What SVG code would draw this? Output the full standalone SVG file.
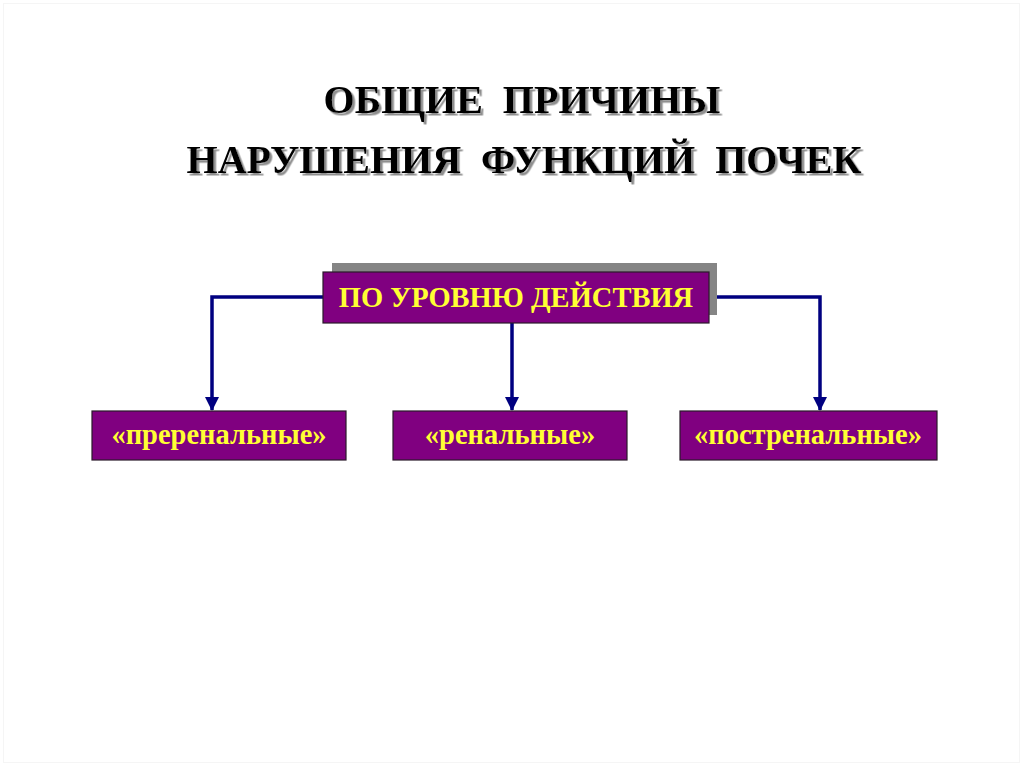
<svg xmlns="http://www.w3.org/2000/svg" width="1024" height="767" viewBox="0 0 1024 767">
<style>
.title{font-family:"Liberation Serif","Times New Roman",serif;font-weight:bold;font-size:40px;text-anchor:middle;white-space:pre;fill:#000000;filter:url(#tshadow)}
.box{fill:#800080;stroke:#2a1a2a;stroke-width:1.2}
.lbl{font-family:"Liberation Serif","Times New Roman",serif;font-weight:bold;font-size:28.5px;fill:#ffff33;text-anchor:middle}
.conn{fill:none;stroke:#000080;stroke-width:3.5;stroke-linejoin:miter}
</style>
<defs>
<filter id="tshadow" x="-5%" y="-20%" width="110%" height="140%">
<feDropShadow dx="2.5" dy="2.5" stdDeviation="0.4" flood-color="#8f8f8f" flood-opacity="1"/>
</filter>
<marker id="arr" viewBox="0 0 14 14" refX="13" refY="7" markerWidth="14" markerHeight="14" markerUnits="userSpaceOnUse" orient="auto">
<path d="M0,0 L14,7 L0,14 Z" fill="#000080"/>
</marker>
</defs>
<rect x="0" y="0" width="1024" height="767" fill="#ffffff"/>
<rect x="3.5" y="3.5" width="1016" height="759" fill="none" stroke="#f5f5f5" stroke-width="1"/>
<g id="title">
<text class="title" x="522" y="113" xml:space="preserve">ОБЩИЕ  ПРИЧИНЫ</text>
<text class="title" x="524" y="173" xml:space="preserve">НАРУШЕНИЯ  ФУНКЦИЙ  ПОЧЕК</text>
</g>
<g id="connectors">
<path class="conn" d="M323,297 H212 V410" marker-end="url(#arr)"/>
<path class="conn" d="M512,323 V410" marker-end="url(#arr)"/>
<path class="conn" d="M717,297 H820 V410" marker-end="url(#arr)"/>
</g>
<g id="node-top">
<rect x="332" y="263" width="385" height="52" fill="#858585"/>
<rect class="box" x="323" y="272" width="386" height="51"/>
<text class="lbl" x="516" y="307">ПО УРОВНЮ ДЕЙСТВИЯ</text>
</g>
<g id="node-prerenal">
<rect class="box" x="92" y="411" width="254" height="49"/>
<text class="lbl" x="219" y="444">«преренальные»</text>
</g>
<g id="node-renal">
<rect class="box" x="393" y="411" width="234" height="49"/>
<text class="lbl" x="510" y="444">«ренальные»</text>
</g>
<g id="node-postrenal">
<rect class="box" x="680" y="411" width="257" height="49"/>
<text class="lbl" x="808" y="444">«постренальные»</text>
</g>
</svg>
